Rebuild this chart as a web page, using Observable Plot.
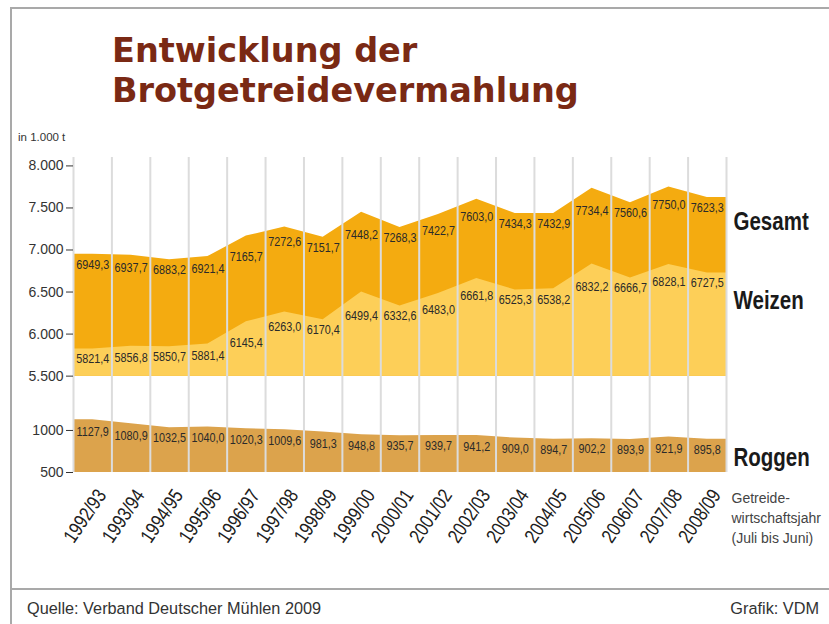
<!DOCTYPE html>
<html>
<head>
<meta charset="utf-8">
<script src="https://cdn.jsdelivr.net/npm/d3@7"></script>
<script src="https://cdn.jsdelivr.net/npm/@observablehq/plot@0.6"></script>
<style>
  html, body { margin: 0; padding: 0; background: #fff; }
  #wrap { position: relative; width: 829px; height: 624px; overflow: hidden; font-family: "Liberation Sans", Arial, sans-serif; }
  .hline { position: absolute; background: #a9a9a9; }
  #title { position: absolute; left: 112px; top: 31px; font-family: "DejaVu Sans", sans-serif; font-size: 33.5px; line-height: 40px; font-weight: bold; color: #7a2914; white-space: nowrap; }
  #unit { position: absolute; left: 18px; top: 131px; font-size: 11.5px; color: #333; }
  #src { position: absolute; left: 27px; top: 599px; font-size: 16.3px; color: #333; }
  #graf { position: absolute; right: 10px; top: 599px; font-size: 16.3px; color: #333; }
  #chart { position: absolute; left: 0; top: 0; }
</style>
</head>
<body>
<div id="wrap">
  <div class="hline" style="left:10px; top:7px; width:819px; height:2px;"></div>
  <div class="hline" style="left:10px; top:7px; width:2px; height:617px;"></div>
  <div class="hline" style="left:10px; top:588px; width:819px; height:2px;"></div>
  <div id="chart"></div>
  <div id="title">Entwicklung der<br>Brotgetreidevermahlung</div>
  <div id="unit">in 1.000 t</div>
  <div id="src">Quelle: Verband Deutscher Mühlen 2009</div>
  <div id="graf">Grafik: VDM</div>
</div>
<script>
const years = ["1992/93","1993/94","1994/95","1995/96","1996/97","1997/98","1998/99","1999/00","2000/01","2001/02","2002/03","2003/04","2004/05","2005/06","2006/07","2007/08","2008/09"];
const gesamt = [6949.3, 6937.7, 6883.2, 6921.4, 7165.7, 7272.6, 7151.7, 7448.2, 7268.3, 7422.7, 7603.0, 7434.3, 7432.9, 7734.4, 7560.6, 7750.0, 7623.3];
const weizen = [5821.4, 5856.8, 5850.7, 5881.4, 6145.4, 6263.0, 6170.4, 6499.4, 6332.6, 6483.0, 6661.8, 6525.3, 6538.2, 6832.2, 6666.7, 6828.1, 6727.5];
const roggen = [1127.9, 1080.9, 1032.5, 1040.0, 1020.3, 1009.6, 981.3, 948.8, 935.7, 939.7, 941.2, 909.0, 894.7, 902.2, 893.9, 921.9, 895.8];
const yTicks = [500, 1000, 5500, 6000, 6500, 7000, 7500, 8000];
const seriesNames = ["Gesamt", "Weizen", "Roggen"];
const axisNote = "Getreide-\nwirtschaftsjahr\n(Juli bis Juni)";

// broken axis: upper panel (5500-8000) shifted down next to lower panel (500-1000+)
const BREAK = 3854;
const tf = v => v > 3000 ? v - BREAK : v;
const inv = v => v > 1500 ? v + BREAK : v;
const n = years.length;

const rows = years.map((year, i) => ({year, i, cx: i + 0.5, g: gesamt[i], w: weizen[i], r: roggen[i]}));
const pts = [{...rows[0], cx: 0}, ...rows, {...rows[n - 1], cx: n}];
const edgeMin = (arr, i) => Math.min(arr[i], (arr[i] + arr[Math.max(i - 1, 0)]) / 2, (arr[i] + arr[Math.min(i + 1, n - 1)]) / 2);
const fmt = v => v.toFixed(1).replace(".", ",");
const fmtTick = v => { const o = inv(v); return o >= 5000 ? d3.format(",")(o).replace(/,/g, ".") : String(o); };

const VALUE_FILL = "#2a2a2a", YEAR_FILL = "#202020", NAME_FILL = "#1a1a1a";

const chart = Plot.plot({
  width: 829,
  height: 600,
  marginLeft: 73,
  marginRight: 103,
  marginTop: 157,
  marginBottom: 128,
  style: {fontFamily: "'Liberation Sans', Arial, sans-serif", background: "transparent", color: "#333", overflow: "visible"},
  x: {domain: [0, n], axis: null},
  y: {domain: [500, tf(8100)], axis: null},
  marks: [
    Plot.areaY(pts, {x: "cx", y1: tf(5500), y2: d => tf(d.g), fill: "#f4ab10"}),
    Plot.areaY(pts, {x: "cx", y1: tf(5500), y2: d => tf(d.w), fill: "#fdcf58"}),
    Plot.areaY(pts, {x: "cx", y1: 500, y2: d => tf(d.r), fill: "#dca34c"}),
    Plot.ruleX(d3.range(n + 1), {y1: 500, y2: tf(8100), stroke: "#dcdcdc", strokeWidth: 2}),
    Plot.axisY(yTicks.map(tf), {tickFormat: fmtTick, tickSize: 7, tickPadding: 3, fontSize: 14, label: null, stroke: "#333"}),
    Plot.text(rows, {x: "cx", y: d => tf(edgeMin(gesamt, d.i)), text: d => fmt(d.g), dy: 10, fontSize: 13.5, fill: VALUE_FILL}),
    Plot.text(rows, {x: "cx", y: d => tf(edgeMin(weizen, d.i)), text: d => fmt(d.w), dy: 10, fontSize: 13.5, fill: VALUE_FILL}),
    Plot.text(rows, {x: "cx", y: d => edgeMin(roggen, d.i), text: d => fmt(d.r), dy: 10, fontSize: 13.5, fill: VALUE_FILL}),
    Plot.text(rows, {x: "cx", y: 500, text: "year", rotate: -56, textAnchor: "end", dx: 9, dy: 19, fontSize: 20, fill: YEAR_FILL}),
    Plot.text([rows[n - 1]], {x: n, y: d => tf(d.g), text: () => seriesNames[0], textAnchor: "start", dx: 7, dy: 24, fontSize: 25, fontWeight: "bold", fill: NAME_FILL}),
    Plot.text([rows[n - 1]], {x: n, y: d => tf(d.w), text: () => seriesNames[1], textAnchor: "start", dx: 7, dy: 28, fontSize: 25, fontWeight: "bold", fill: NAME_FILL}),
    Plot.text([rows[n - 1]], {x: n, y: d => d.r, text: () => seriesNames[2], textAnchor: "start", dx: 7, dy: 19, fontSize: 25, fontWeight: "bold", fill: NAME_FILL}),
    Plot.text([axisNote], {x: n, y: 500, text: d => d, textAnchor: "start", lineAnchor: "top", lineHeight: 1.4, dx: 5, dy: 17, fontSize: 14, fill: "#444"})
  ]
});

document.getElementById("chart").appendChild(chart);

// narrow the condensed-looking labels (no narrow font installed)
function squeeze(fill, s) {
  chart.querySelectorAll(`g[fill="${fill}"] text`).forEach(t => {
    const L = t.getComputedTextLength();
    if (L > 0) {
      t.setAttribute("textLength", (L * s).toFixed(2));
      t.setAttribute("lengthAdjust", "spacingAndGlyphs");
    }
  });
}
squeeze(VALUE_FILL, 0.8);
squeeze(YEAR_FILL, 0.82);
squeeze(NAME_FILL, 0.82);
</script>
</body>
</html>
